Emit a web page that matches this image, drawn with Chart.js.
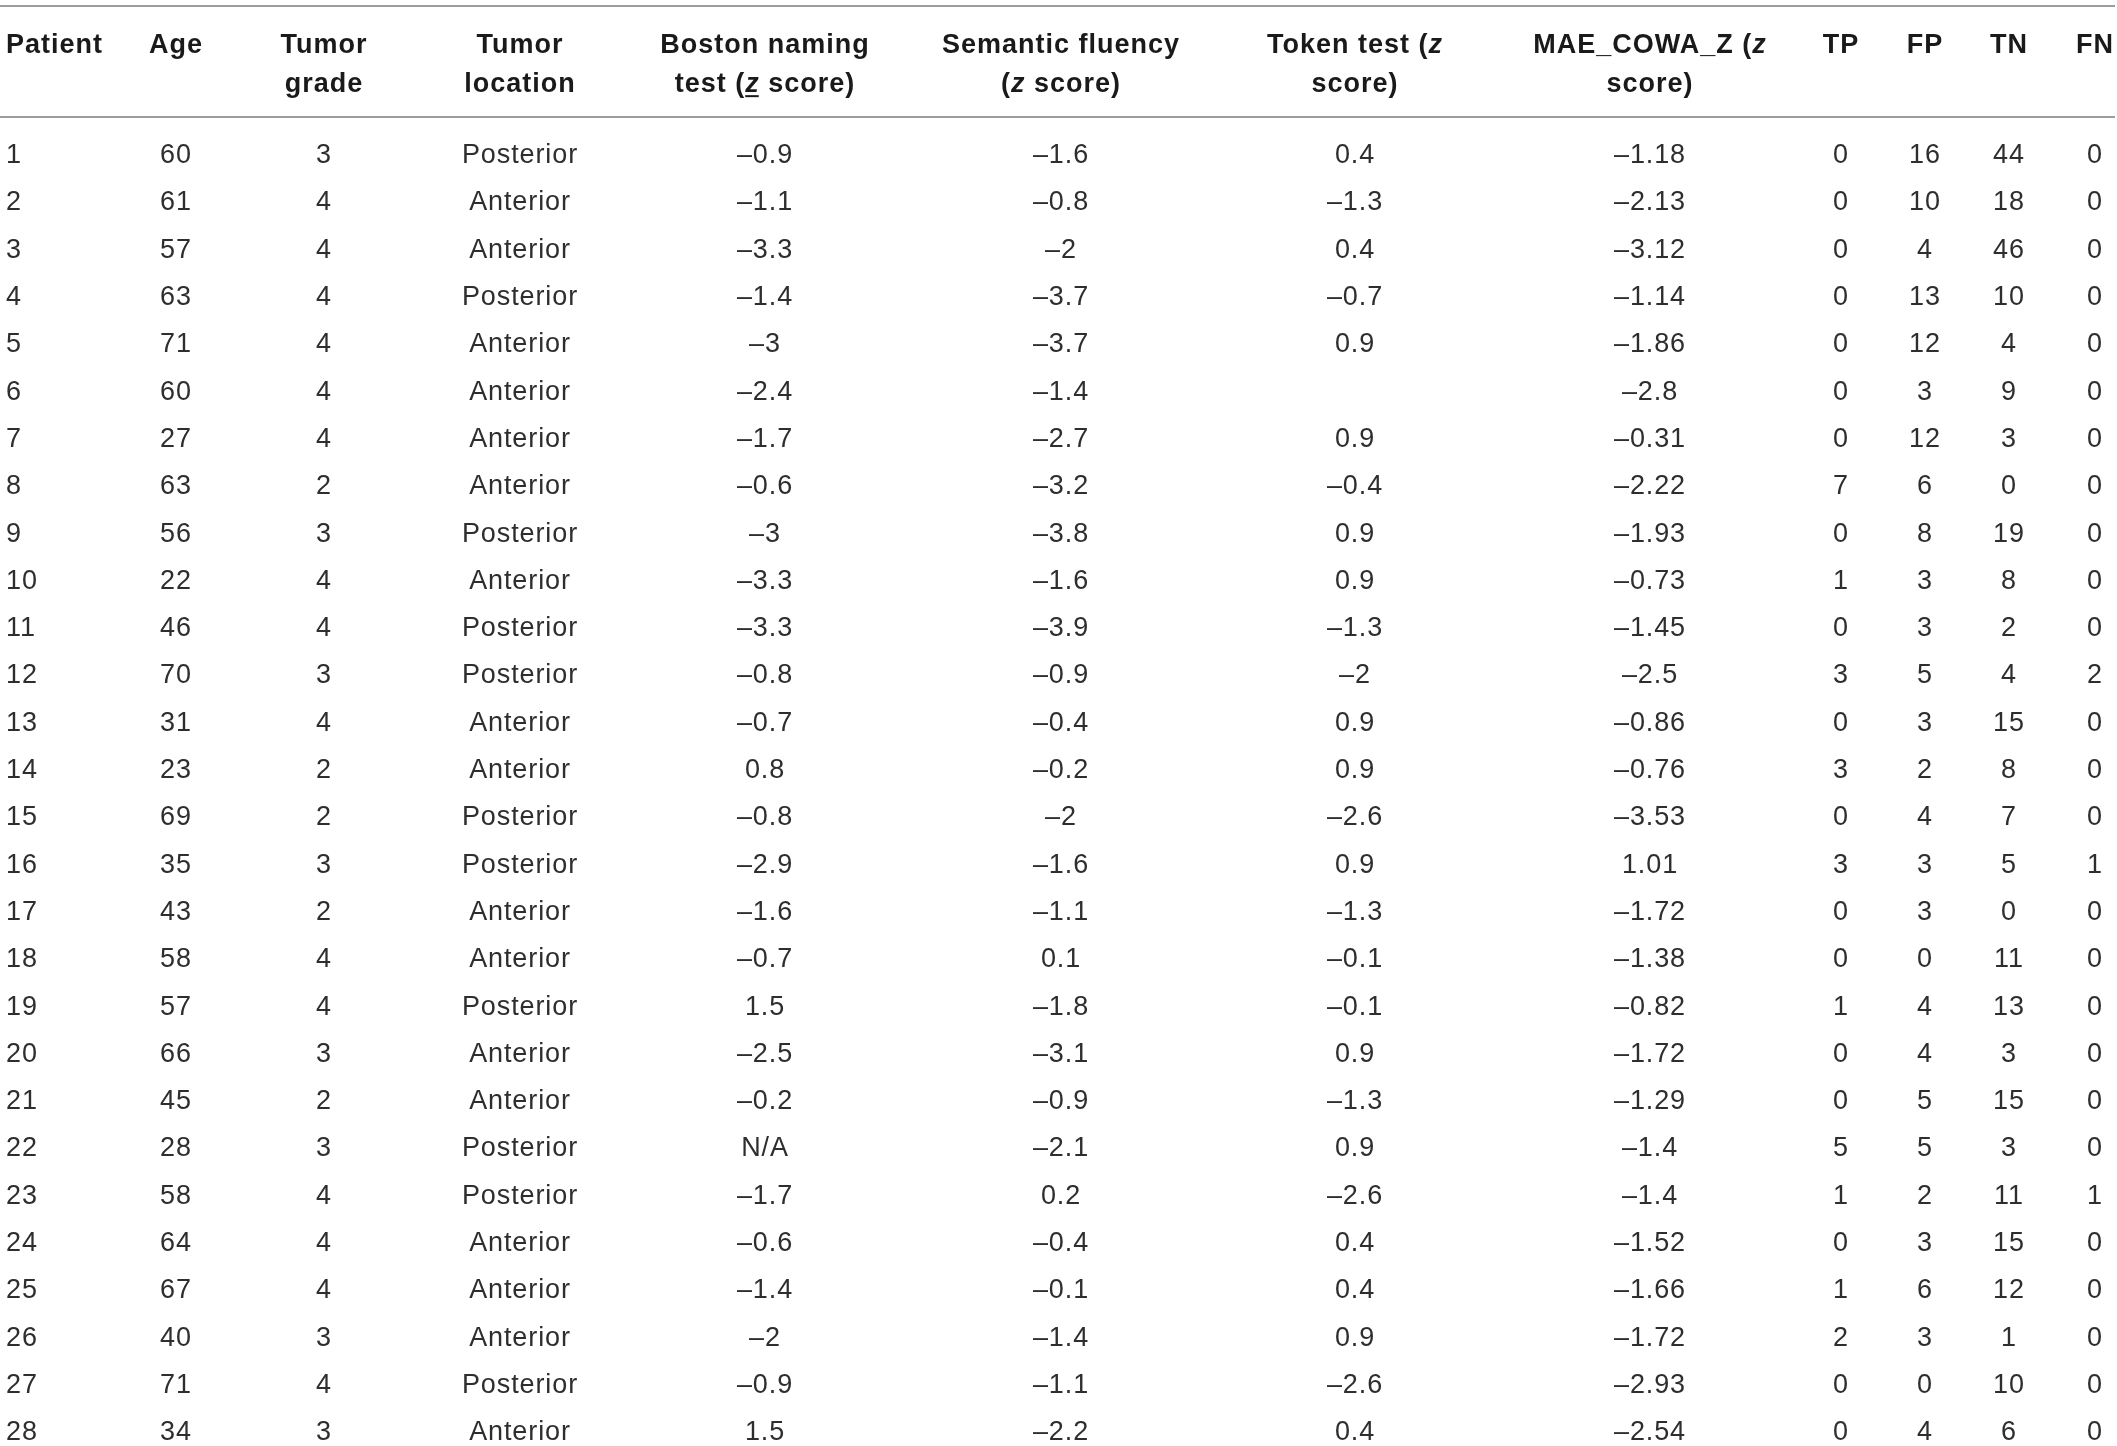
<!DOCTYPE html>
<html>
<head>
<meta charset="utf-8">
<title>Patient table</title>
<script src="https://cdn.jsdelivr.net/npm/chart.js@4.4.1/dist/chart.umd.min.js"></script>
<style>
  html, body { margin: 0; padding: 0; background: #ffffff; }
  #wrap { width: 2117px; height: 1446px; }
</style>
</head>
<body>
<div id="wrap"><canvas id="tableChart" width="2117" height="1446"></canvas></div>
<script>
// Table data, one array per column
const patients = [1, 2, 3, 4, 5, 6, 7, 8, 9, 10, 11, 12, 13, 14, 15, 16, 17, 18, 19, 20, 21, 22, 23, 24, 25, 26, 27, 28];
const ages = [60, 61, 57, 63, 71, 60, 27, 63, 56, 22, 46, 70, 31, 23, 69, 35, 43, 58, 57, 66, 45, 28, 58, 64, 67, 40, 71, 34];
const grades = [3, 4, 4, 4, 4, 4, 4, 2, 3, 4, 4, 3, 4, 2, 2, 3, 2, 4, 4, 3, 2, 3, 4, 4, 4, 3, 4, 3];
const locations = ['Posterior', 'Anterior', 'Anterior', 'Posterior', 'Anterior', 'Anterior', 'Anterior', 'Anterior',
  'Posterior', 'Anterior', 'Posterior', 'Posterior', 'Anterior', 'Anterior', 'Posterior', 'Posterior', 'Anterior',
  'Anterior', 'Posterior', 'Anterior', 'Anterior', 'Posterior', 'Posterior', 'Anterior', 'Anterior', 'Anterior',
  'Posterior', 'Anterior'];
const boston = [-0.9, -1.1, -3.3, -1.4, -3, -2.4, -1.7, -0.6, -3, -3.3, -3.3, -0.8, -0.7, 0.8, -0.8, -2.9, -1.6, -0.7,
  1.5, -2.5, -0.2, 'N/A', -1.7, -0.6, -1.4, -2, -0.9, 1.5];
const semantic = [-1.6, -0.8, -2, -3.7, -3.7, -1.4, -2.7, -3.2, -3.8, -1.6, -3.9, -0.9, -0.4, -0.2, -2, -1.6, -1.1, 0.1,
  -1.8, -3.1, -0.9, -2.1, 0.2, -0.4, -0.1, -1.4, -1.1, -2.2];
const token = [0.4, -1.3, 0.4, -0.7, 0.9, null, 0.9, -0.4, 0.9, 0.9, -1.3, -2, 0.9, 0.9, -2.6, 0.9, -1.3, -0.1, -0.1,
  0.9, -1.3, 0.9, -2.6, 0.4, 0.4, 0.9, -2.6, 0.4];
const maeCowa = [-1.18, -2.13, -3.12, -1.14, -1.86, -2.8, -0.31, -2.22, -1.93, -0.73, -1.45, -2.5, -0.86, -0.76, -3.53,
  1.01, -1.72, -1.38, -0.82, -1.72, -1.29, -1.4, -1.4, -1.52, -1.66, -1.72, -2.93, -2.54];
const tp = [0, 0, 0, 0, 0, 0, 0, 7, 0, 1, 0, 3, 0, 3, 0, 3, 0, 0, 1, 0, 0, 5, 1, 0, 1, 2, 0, 0];
const fp = [16, 10, 4, 13, 12, 3, 12, 6, 8, 3, 3, 5, 3, 2, 4, 3, 3, 0, 4, 4, 5, 5, 2, 3, 6, 3, 0, 4];
const tn = [44, 18, 46, 10, 4, 9, 3, 0, 19, 8, 2, 4, 15, 8, 7, 5, 0, 11, 13, 3, 15, 3, 11, 15, 12, 1, 10, 6];
const fn = [0, 0, 0, 0, 0, 0, 0, 0, 0, 0, 0, 2, 0, 0, 0, 1, 0, 0, 0, 0, 0, 0, 1, 0, 0, 0, 0, 0];

// Header text, two lines per column. {z} = italic z, {z_} = italic underlined z
const headerLine1 = ['Patient', 'Age', 'Tumor', 'Tumor', 'Boston naming', 'Semantic fluency', 'Token test ({z}',
  'MAE_COWA_Z ({z}', 'TP', 'FP', 'TN', 'FN'];
const headerLine2 = ['', '', 'grade', 'location', 'test ({z_} score)', '({z} score)', 'score)', 'score)', '', '', '', ''];

const columns = [patients, ages, grades, locations, boston, semantic, token, maeCowa, tp, fp, tn, fn];

// Layout (x scale runs in canvas pixels, y scale in row units)
const colX = [6, 176, 324, 520, 765, 1061, 1355, 1650, 1841, 1925, 2009, 2095];
const colAlign = ['left', 'center', 'center', 'center', 'center', 'center', 'center', 'center', 'center', 'center', 'center', 'center'];
const Y_MIN = -2.245;
const Y_MAX = Y_MIN + 1446 / 47.3;
const HEADER_ROW_1 = -1.325;
const HEADER_ROW_2 = -0.501;
const RULE_ROWS = [-2.118, 0.228];

const FONT_SIZE = 27;
const FONT_FAMILY = '"Liberation Sans", Arial, Helvetica, sans-serif';

// numbers use an en dash for the minus sign
function formatCell(v) {
  if (v === null || v === undefined) return '';
  if (typeof v === 'string') return v;
  return v < 0 ? '\u2013' + String(Math.abs(v)) : String(v);
}

// split "test ({z_} score)" into styled pieces
function parseSegments(text) {
  return text.split(/(\{z_?\})/).filter(s => s !== '').map(s => {
    if (s === '{z}') return { text: 'z', italic: true, underline: false };
    if (s === '{z_}') return { text: 'z', italic: true, underline: true };
    return { text: s, italic: false, underline: false };
  });
}

function drawRich(ctx, text, x, yCenter, align, bold, color) {
  const segs = parseSegments(text);
  const fontFor = seg => `${seg.italic ? 'italic ' : ''}${bold ? 'bold ' : ''}${FONT_SIZE}px ${FONT_FAMILY}`;
  ctx.letterSpacing = bold ? '1px' : '0.9px';
  let total = 0;
  segs.forEach(seg => {
    ctx.font = fontFor(seg);
    seg.width = ctx.measureText(seg.text).width;
    total += seg.width;
  });
  let cx = align === 'left' ? x : x - total / 2;
  const baseline = yCenter + FONT_SIZE * 0.358;
  ctx.fillStyle = color;
  ctx.textAlign = 'left';
  ctx.textBaseline = 'alphabetic';
  segs.forEach(seg => {
    ctx.font = fontFor(seg);
    ctx.fillText(seg.text, cx, baseline);
    if (seg.underline) {
      ctx.fillRect(cx, baseline + 3, seg.width - 1, 2);
    }
    cx += seg.width;
  });
}

// Plugin: horizontal rules + header + cell text at each point position
const tableTextPlugin = {
  id: 'tableText',
  afterDatasetsDraw(chart) {
    const ctx = chart.ctx;
    const xs = chart.scales.x;
    const ys = chart.scales.y;
    const area = chart.chartArea;
    ctx.save();

    // rules
    ctx.strokeStyle = '#9c9c9c';
    ctx.lineWidth = 2;
    RULE_ROWS.forEach(r => {
      const y = Math.round(ys.getPixelForValue(r));
      ctx.beginPath();
      ctx.moveTo(area.left, y);
      ctx.lineTo(area.right - 2, y);
      ctx.stroke();
    });

    // header
    headerLine1.forEach((txt, c) => {
      const x = xs.getPixelForValue(colX[c]);
      drawRich(ctx, txt, x, ys.getPixelForValue(HEADER_ROW_1), colAlign[c], true, '#1a1a1a');
      if (headerLine2[c]) {
        drawRich(ctx, headerLine2[c], x, ys.getPixelForValue(HEADER_ROW_2), colAlign[c], true, '#1a1a1a');
      }
    });

    // body cells
    chart.data.datasets.forEach((ds, c) => {
      const meta = chart.getDatasetMeta(c);
      meta.data.forEach((pt, i) => {
        const txt = formatCell(columns[c][i]);
        if (txt) drawRich(ctx, txt, pt.x, pt.y, colAlign[c], false, '#2e2e2e');
      });
    });
    ctx.restore();
  }
};

const datasets = columns.map((col, c) => ({
  label: headerLine1[c],
  data: col.map((_, i) => ({ x: colX[c], y: i + 1 })),
  pointRadius: 0,
  pointHoverRadius: 0,
  showLine: false
}));

new Chart(document.getElementById('tableChart'), {
  type: 'scatter',
  data: { datasets: datasets },
  options: {
    responsive: false,
    devicePixelRatio: 1,
    animation: false,
    events: [],
    layout: { padding: 0 },
    scales: {
      x: { type: 'linear', min: 0, max: 2117, display: false },
      y: { type: 'linear', min: Y_MIN, max: Y_MAX, reverse: true, display: false }
    },
    plugins: {
      legend: { display: false },
      tooltip: { enabled: false },
      title: { display: false }
    }
  },
  plugins: [tableTextPlugin]
});
</script>
</body>
</html>
